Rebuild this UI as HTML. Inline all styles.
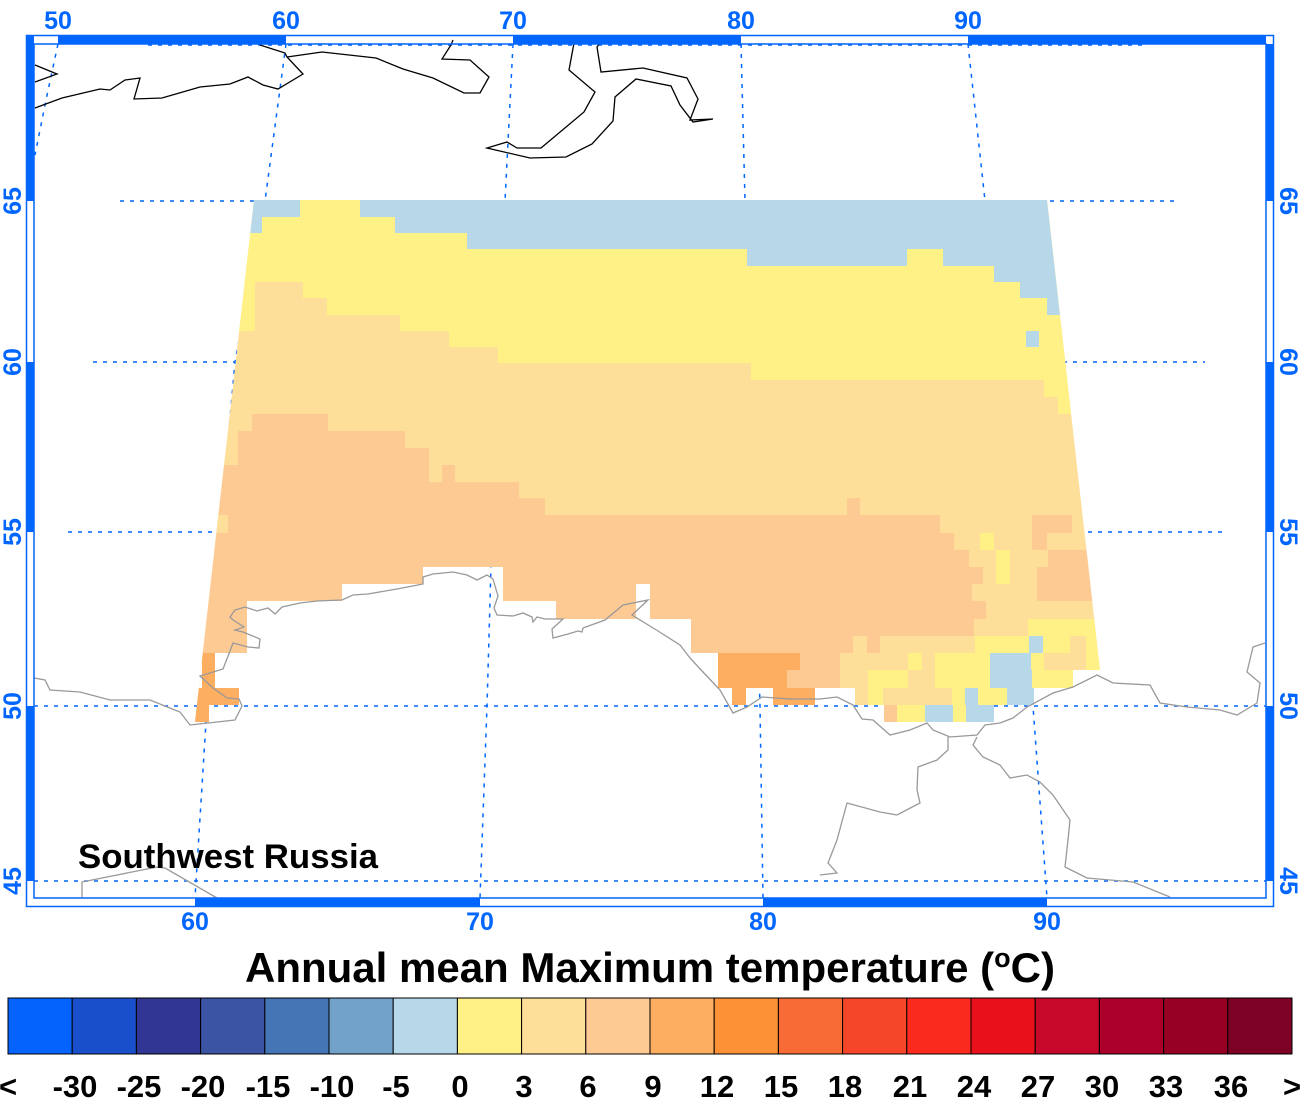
<!DOCTYPE html>
<html><head><meta charset="utf-8"><style>
html,body{margin:0;padding:0;background:#fff;}
svg{display:block;}
.t{font-family:"Liberation Sans",Arial,sans-serif;font-weight:bold;}
</style></head><body>
<svg width="1300" height="1105" viewBox="0 0 1300 1105" xmlns="http://www.w3.org/2000/svg">
<defs>
<clipPath id="trap"><polygon points="254,200 1047,200 1102,688 1102,722 195,722"/></clipPath>
<clipPath id="south"><polygon points="150,800 150,653 247,653 247,601 342,601 342,584 423,584 423,567 503,567 503,601 556,601 556,619 636,619 636,584 650,584 650,619 691,619 691,653 1200,653 1200,800"/></clipPath>
<g id="grid" stroke="#0066ff" stroke-width="1.5" stroke-dasharray="4,6" fill="none">
<line x1="120" y1="201" x2="1175" y2="201"/>
<line x1="93" y1="362" x2="1205" y2="362"/>
<line x1="68" y1="532" x2="1225" y2="532"/>
<line x1="34" y1="706" x2="1266" y2="706"/>
<line x1="34" y1="881" x2="1266" y2="881"/>
<line x1="148" y1="45" x2="1145" y2="45"/>
<polyline points="58,44 46,100 35,155"/>
<polyline points="286,44 265,201 235,362 220,532 207,706 195,898"/>
<polyline points="513,44 505,201 498,362 492,532 487,706 480,898"/>
<polyline points="741,44 745,201 750,362 755,532 760,706 763,898"/>
<polyline points="968,44 985,201 1002,362 1018,532 1033,706 1047,898"/>
</g>
</defs>
<rect width="1300" height="1105" fill="#fff"/>

<use href="#grid"/>

<!-- data -->
<g clip-path="url(#trap)">
<rect x="150" y="195" width="1000" height="600" fill="#fedf99"/>
<polygon fill="#fff185" points="150,195 150,331 255,331 255,282 303,282 303,298 327,298 327,315 400,315 400,331 449,331 449,347 498,347 498,363 751,363 751,380 1044,380 1044,397 1058,397 1058,414 1200,414 1200,195"/>
<polygon fill="#b7d8e8" points="150,195 150,233 262,233 262,217 300,217 300,195 360,195 360,217 395,217 395,233 467,233 467,249 747,249 747,266 907,266 907,249 943,249 943,266 994,266 994,282 1020,282 1020,298 1047,298 1047,315 1200,315 1200,195"/>
<rect x="1026" y="331" width="13" height="16" fill="#b7d8e8"/>
<polygon fill="#fdca94" points="150,465 238,465 238,431 252,431 252,414 328,414 328,431 405,431 405,448 429,448 429,482 442,482 442,465 455,465 455,482 519,482 519,498 545,498 545,515 847,515 847,498 860,498 860,515 940,515 940,533 954,533 954,550 969,550 969,567 983,567 983,584 972,584 972,601 986,601 986,619 974,619 974,636 853,636 853,800 150,800"/>
<rect x="214" y="515" width="14" height="18" fill="#fedf99"/>
<g fill="#fdca94">
<rect x="1032" y="515" width="40" height="18"/>
<rect x="1032" y="533" width="15" height="17"/>
<rect x="1048" y="550" width="60" height="17"/>
<rect x="1037" y="567" width="70" height="34"/>
<rect x="867" y="636" width="13" height="17"/>
</g>
<g fill="#fff185">
<rect x="980" y="533" width="14" height="17"/>
<rect x="996" y="550" width="14" height="34"/>
<rect x="1028" y="619" width="80" height="17"/>
<rect x="975" y="636" width="54" height="17"/>
<rect x="1043" y="636" width="27" height="17"/>
<rect x="1086" y="636" width="20" height="17"/>
</g>
<rect x="1029" y="636" width="14" height="17" fill="#b7d8e8"/>
<!-- white south -->
<polygon fill="#fff" points="150,800 150,653 247,653 247,601 342,601 342,584 423,584 423,567 503,567 503,601 556,601 556,619 636,619 636,584 650,584 650,619 691,619 691,653 1200,653 1200,800"/>
<g clip-path="url(#south)"><use href="#grid"/></g>
<!-- lower cells -->
<g>
<rect x="202" y="653" width="13" height="35" fill="#fdae61"/>
<rect x="190" y="688" width="49" height="17" fill="#fdae61"/>
<rect x="190" y="705" width="19" height="17" fill="#fdae61"/>
<rect x="718" y="653" width="82" height="17" fill="#fdae61"/>
<rect x="800" y="653" width="40" height="17" fill="#fdca94"/>
<rect x="840" y="653" width="68" height="17" fill="#fedf99"/>
<rect x="908" y="653" width="14" height="17" fill="#fff185"/>
<rect x="922" y="653" width="13" height="17" fill="#fedf99"/>
<rect x="935" y="653" width="55" height="17" fill="#fff185"/>
<rect x="990" y="653" width="41" height="17" fill="#b7d8e8"/>
<rect x="1031" y="653" width="13" height="17" fill="#fff185"/>
<rect x="1044" y="653" width="42" height="17" fill="#fedf99"/>
<rect x="1086" y="653" width="20" height="17" fill="#fff185"/>
<rect x="718" y="670" width="69" height="18" fill="#fdae61"/>
<rect x="787" y="670" width="53" height="18" fill="#fdca94"/>
<rect x="840" y="670" width="28" height="18" fill="#fedf99"/>
<rect x="868" y="670" width="40" height="18" fill="#fff185"/>
<rect x="908" y="670" width="27" height="18" fill="#fedf99"/>
<rect x="935" y="670" width="55" height="18" fill="#fff185"/>
<rect x="990" y="670" width="42" height="18" fill="#b7d8e8"/>
<rect x="1032" y="670" width="41" height="18" fill="#fff185"/>
<rect x="732" y="688" width="14" height="17" fill="#fdae61"/>
<rect x="773" y="688" width="42" height="17" fill="#fdae61"/>
<rect x="855" y="688" width="13" height="17" fill="#fedf99"/>
<rect x="868" y="688" width="15" height="17" fill="#fff185"/>
<rect x="883" y="688" width="69" height="17" fill="#fedf99"/>
<rect x="952" y="688" width="13" height="17" fill="#fff185"/>
<rect x="965" y="688" width="13" height="17" fill="#b7d8e8"/>
<rect x="978" y="688" width="29" height="17" fill="#fff185"/>
<rect x="1007" y="688" width="27" height="17" fill="#b7d8e8"/>
<rect x="884" y="705" width="13" height="17" fill="#fdca94"/>
<rect x="897" y="705" width="28" height="17" fill="#fff185"/>
<rect x="925" y="705" width="28" height="17" fill="#b7d8e8"/>
<rect x="953" y="705" width="13" height="17" fill="#fff185"/>
<rect x="966" y="705" width="28" height="17" fill="#b7d8e8"/>
</g>
</g>

<!-- coastlines -->
<g fill="none" stroke="#000" stroke-width="1.3">
<polyline points="260,45 285,53 287,57 303,74 278,89 263,85 248,77 230,84 200,87 162,98 134,99 140,78 125,80 110,90 100,89 62,98 35,108"/>
<polyline points="35,65 57,74 35,82"/>
<polyline points="287,57 322,52 376,58 403,69 433,78 464,93 480,93 489,77 470,60 442,59 451,45 453,40"/>
<polyline points="600,43 597,47 601,72 643,68 687,78 698,99 690,120 713,119 693,122 680,105 671,86 636,79 615,97 613,121 592,144 566,157 530,158 487,148 507,142 517,148 541,148 584,112 595,92 569,70 574,43"/>
</g>
<g fill="none" stroke="#999" stroke-width="1.3">
<polyline points="34,678 45,680 50,690 80,692 110,700 150,700 180,712 190,725 235,720 242,706 239,699 227,698 213,688 200,676 223,669 230,651 233,643 248,647 259,648 260,639 243,632 235,630 244,627 233,620 230,617 235,610 245,607 257,611 268,608 275,614 282,607 300,603 317,601 342,600 353,595 368,594 397,589 423,584 423,577 433,574 453,572 467,575 477,580 487,575 493,579 498,596 494,608 497,615 513,616 523,613 532,617 533,622 537,617 545,619 563,619 552,629 553,638 568,634 578,631 582,632 583,628 605,620 623,605 648,600 632,615 658,631 680,645 690,658 703,672 720,690 733,713 747,707 762,697 790,699 820,699 837,697 853,705 862,719 873,720 890,735 910,730 927,723 933,730 950,737 977,735 985,725 1000,723 1013,718 1027,707 1053,693 1073,687 1097,675 1113,683 1150,685 1160,703 1187,707 1220,710 1237,715 1257,703 1260,683 1247,672 1253,647 1265,643"/>
<polyline points="948,737 948,750 937,760 918,767 917,790 920,803 897,815 880,812 847,803 837,840 828,863 837,873 820,875"/>
<polyline points="977,737 973,745 983,757 1000,765 1010,778 1027,775 1040,782 1053,795 1070,820 1068,840 1065,867 1087,878 1133,882 1170,897"/>
<polyline points="82,898 82,882 157,867 165,868 217,898"/>
</g>

<!-- frame -->
<g fill="#0066ff">
<rect x="58" y="35" width="228" height="9"/>
<rect x="513" y="35" width="228" height="9"/>
<rect x="968" y="35" width="298" height="9"/>
<rect x="195" y="898" width="285" height="9"/>
<rect x="763" y="898" width="284" height="9"/>
<rect x="26" y="35" width="8" height="166"/>
<rect x="26" y="362" width="8" height="170"/>
<rect x="26" y="706" width="8" height="175"/>
<rect x="1266" y="44" width="8" height="157"/>
<rect x="1266" y="362" width="8" height="170"/>
<rect x="1266" y="706" width="8" height="175"/>
</g>
<g fill="none" stroke="#0066ff" stroke-width="1.5">
<rect x="26.5" y="35.5" width="1247" height="871"/>
<rect x="34" y="44" width="1232" height="854"/>
</g>

<!-- axis labels -->
<g class="t" fill="#0066ff" font-size="25" text-anchor="middle">
<text x="58" y="29">50</text><text x="286" y="29">60</text><text x="513" y="29">70</text><text x="741" y="29">80</text><text x="968" y="29">90</text>
<text x="195" y="930">60</text><text x="480" y="930">70</text><text x="763" y="930">80</text><text x="1047" y="930">90</text>
<text transform="translate(21,201) rotate(-90)">65</text>
<text transform="translate(21,362) rotate(-90)">60</text>
<text transform="translate(21,532) rotate(-90)">55</text>
<text transform="translate(21,706) rotate(-90)">50</text>
<text transform="translate(21,881) rotate(-90)">45</text>
<text transform="translate(1280,201) rotate(90)">65</text>
<text transform="translate(1280,362) rotate(90)">60</text>
<text transform="translate(1280,532) rotate(90)">55</text>
<text transform="translate(1280,706) rotate(90)">50</text>
<text transform="translate(1280,881) rotate(90)">45</text>
</g>

<text class="t" x="78" y="868" font-size="34" fill="#000" textLength="300" lengthAdjust="spacingAndGlyphs">Southwest Russia</text>
<text class="t" x="650" y="982" font-size="42" fill="#000" text-anchor="middle">Annual mean Maximum temperature (<tspan font-size="27" dy="-15">o</tspan><tspan dy="15">C)</tspan></text>

<!-- colorbar -->
<g stroke="#000" stroke-width="1">
<rect x="8" y="998" width="64.2" height="56" fill="#0563fd"/>
<rect x="72.2" y="998" width="64.2" height="56" fill="#1a4fcc"/>
<rect x="136.4" y="998" width="64.2" height="56" fill="#313695"/>
<rect x="200.6" y="998" width="64.2" height="56" fill="#3b54a4"/>
<rect x="264.8" y="998" width="64.2" height="56" fill="#4575b4"/>
<rect x="329" y="998" width="64.2" height="56" fill="#72a1c9"/>
<rect x="393.2" y="998" width="64.2" height="56" fill="#b7d8e8"/>
<rect x="457.4" y="998" width="64.2" height="56" fill="#fff185"/>
<rect x="521.6" y="998" width="64.2" height="56" fill="#fedf99"/>
<rect x="585.8" y="998" width="64.2" height="56" fill="#fdca94"/>
<rect x="650" y="998" width="64.2" height="56" fill="#fdae61"/>
<rect x="714.2" y="998" width="64.2" height="56" fill="#fd9136"/>
<rect x="778.4" y="998" width="64.2" height="56" fill="#f86b36"/>
<rect x="842.6" y="998" width="64.2" height="56" fill="#f6462a"/>
<rect x="906.8" y="998" width="64.2" height="56" fill="#fb2a1e"/>
<rect x="971" y="998" width="64.2" height="56" fill="#e8111b"/>
<rect x="1035.2" y="998" width="64.2" height="56" fill="#c6082a"/>
<rect x="1099.4" y="998" width="64.2" height="56" fill="#aa0029"/>
<rect x="1163.6" y="998" width="64.2" height="56" fill="#960022"/>
<rect x="1227.8" y="998" width="64.2" height="56" fill="#7d0025"/>
</g>
<g class="t" font-size="31" fill="#000" text-anchor="middle">
<text x="8" y="1097">&lt;</text>
<text x="75" y="1097">-30</text><text x="139" y="1097">-25</text><text x="203" y="1097">-20</text><text x="268" y="1097">-15</text><text x="332" y="1097">-10</text><text x="396" y="1097">-5</text>
<text x="460" y="1097">0</text><text x="524" y="1097">3</text><text x="588" y="1097">6</text><text x="653" y="1097">9</text><text x="717" y="1097">12</text><text x="781" y="1097">15</text><text x="845" y="1097">18</text><text x="910" y="1097">21</text><text x="974" y="1097">24</text><text x="1038" y="1097">27</text><text x="1102" y="1097">30</text><text x="1166" y="1097">33</text><text x="1231" y="1097">36</text>
<text x="1292" y="1097">&gt;</text>
</g>
</svg>
</body></html>
